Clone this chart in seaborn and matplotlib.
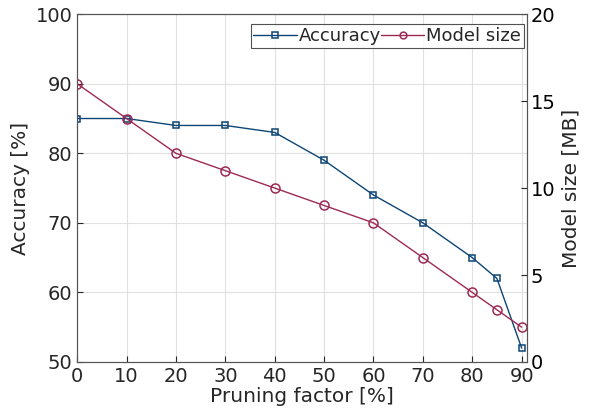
import numpy as np
import matplotlib
matplotlib.use("Agg")
import matplotlib.pyplot as plt
import seaborn as sns
import pandas as pd

pruning = [0, 10, 20, 30, 40, 50, 60, 70, 80, 85, 90]
accuracy = [85, 85, 84, 84, 83, 79, 74, 70, 65, 62, 52]
model_size = [16, 14, 12, 11, 10, 9, 8, 6, 4, 3, 2]

df = pd.DataFrame({"pruning": pruning, "accuracy": accuracy, "size": model_size})

sns.set_style("ticks")
plt.rcParams["font.family"] = ["DejaVu Sans"]

blue = "#0d4676"
red = "#9c2a55"

fig = plt.figure(figsize=(5.89, 4.17), dpi=100)
ax = fig.add_axes([0.131, 0.132, 0.763, 0.834])
ax2 = ax.twinx()

sns.lineplot(data=df, x="pruning", y="accuracy", ax=ax, color=blue, marker="s",
             markersize=5, markerfacecolor="none", markeredgecolor=blue,
             markeredgewidth=1.1, linewidth=1.0, label="Accuracy", legend=False)
sns.lineplot(data=df, x="pruning", y="size", ax=ax2, color=red, marker="o",
             markersize=6.5, markerfacecolor="none", markeredgecolor=red,
             markeredgewidth=1.1, linewidth=1.0, label="Model size", legend=False)

ax.set_xlim(0, 91)
ax.set_ylim(50, 100)
ax2.set_ylim(0, 20)
ax.set_xticks(range(0, 91, 10))
ax.set_yticks(range(50, 101, 10))
ax2.set_yticks([0, 5, 10, 15, 20])

ax.grid(True, color="#e0e0e0", linewidth=0.8)
ax.set_axisbelow(True)

for a in (ax, ax2):
    a.tick_params(direction="in", labelsize=14, length=4, colors="#262626")
    for s in a.spines.values():
        s.set_color("#555555")
        s.set_linewidth(0.8)
ax2.tick_params(axis="y", labelcolor="black", pad=3)

ax.set_xlabel("Pruning factor [%]", fontsize=14.5, labelpad=1)
ax.set_ylabel("Accuracy [%]", fontsize=14.5)
ax2.set_ylabel("Model size [MB]", fontsize=14.5)

h1, l1 = ax.get_legend_handles_labels()
h2, l2 = ax2.get_legend_handles_labels()
leg = ax2.legend(h1 + h2, l1 + l2, loc="upper right", ncol=2, fontsize=13,
                 bbox_to_anchor=(1 - 3 / 449, 1 - 10 / 348),
                 frameon=True, fancybox=False, edgecolor="#262626",
                 handlelength=2.4, handletextpad=0.1, columnspacing=0.0,
                 borderpad=0.15, borderaxespad=0.0, markerscale=0.75)
leg.get_frame().set_linewidth(0.8)

fig.savefig("out.png", dpi=100)
